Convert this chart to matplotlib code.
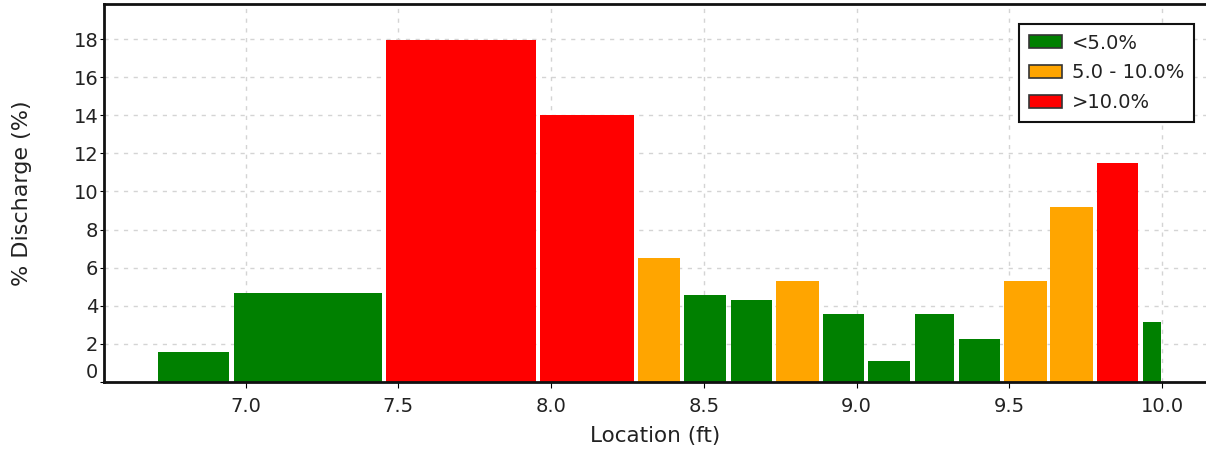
import matplotlib
matplotlib.use("Agg")
import matplotlib.pyplot as plt
import matplotlib.patches as mpatches

# Data
loc_start = [6.712, 6.961, 7.459, 7.965, 8.285, 8.436, 8.588, 8.736,
             8.889, 9.039, 9.191, 9.336, 9.484, 9.634, 9.787, 9.937]
loc_end = [6.945, 7.445, 7.950, 8.271, 8.423, 8.573, 8.724, 8.877,
           9.025, 9.175, 9.320, 9.470, 9.623, 9.773, 9.923, 9.996]
discharge = [1.55, 4.67, 17.95, 14.0, 6.49, 4.57, 4.30, 5.31,
             3.58, 1.08, 3.58, 2.25, 5.31, 9.18, 11.48, 3.15]

class_labels = ['<5.0%', '5.0 - 10.0%', '>10.0%']
class_colors = ['#008000', '#FFA500', '#FF0000']
x_ticks = [7.0, 7.5, 8.0, 8.5, 9.0, 9.5, 10.0]
y_ticks = [0, 2, 4, 6, 8, 10, 12, 14, 16, 18]


def bar_colour(v):
    if v < 5.0:
        return class_colors[0]
    if v <= 10.0:
        return class_colors[1]
    return class_colors[2]


plt.rcParams['font.family'] = ['DejaVu Sans']
text_col = '#222222'

fig = plt.figure(figsize=(12.06, 4.57), dpi=100)
ax = fig.add_axes([104 / 1206, 1 - 382 / 457, 1 - 104 / 1206, 378 / 457])

# bars
for x0, x1, v in zip(loc_start, loc_end, discharge):
    ax.bar(x0, v, width=x1 - x0, align='edge', color=bar_colour(v),
           edgecolor='none', zorder=2)

ax.set_xlim(6.536, 10.144)
ax.set_ylim(0, 19.84)
ax.set_xticks(x_ticks)
ax.set_xticklabels([f'{t:.1f}' for t in x_ticks])
ax.set_yticks(y_ticks)
ax.set_yticklabels([str(t) for t in y_ticks])

# grid
ax.grid(True, color='#d4d4d4', linestyle=(0, (3, 4)), linewidth=1, zorder=0)
ax.set_axisbelow(True)

for side in ['left', 'bottom', 'top']:
    ax.spines[side].set_linewidth(2)
    ax.spines[side].set_color('#111111')
ax.spines['right'].set_visible(False)

ax.tick_params(axis='y', length=3, pad=1, labelsize=14, labelcolor=text_col)
ax.tick_params(axis='x', length=4, pad=7, labelsize=14, labelcolor=text_col)

# the "0" label sits slightly above its tick in the reference
for lab in ax.get_yticklabels():
    if lab.get_text() == '0':
        lab.set_va('bottom')

ax.set_xlabel('Location (ft)', fontsize=15.5, color=text_col, labelpad=7)
ax.set_ylabel('% Discharge (%)', fontsize=16, color=text_col, labelpad=30)

# legend
handles = [mpatches.Patch(facecolor=c, edgecolor='#333333', linewidth=1.2, label=l)
           for c, l in zip(class_colors, class_labels)]
leg = ax.legend(handles=handles, loc='upper right', bbox_to_anchor=(0.989, 0.947),
                borderaxespad=0, fontsize=14, fancybox=False, framealpha=1,
                edgecolor='#111111', labelspacing=0.55, handlelength=1.7,
                handleheight=0.65, handletextpad=0.5, borderpad=0.5)
leg.get_frame().set_linewidth(1.5)
for t in leg.get_texts():
    t.set_color(text_col)

fig.savefig('out.png', dpi=100)
